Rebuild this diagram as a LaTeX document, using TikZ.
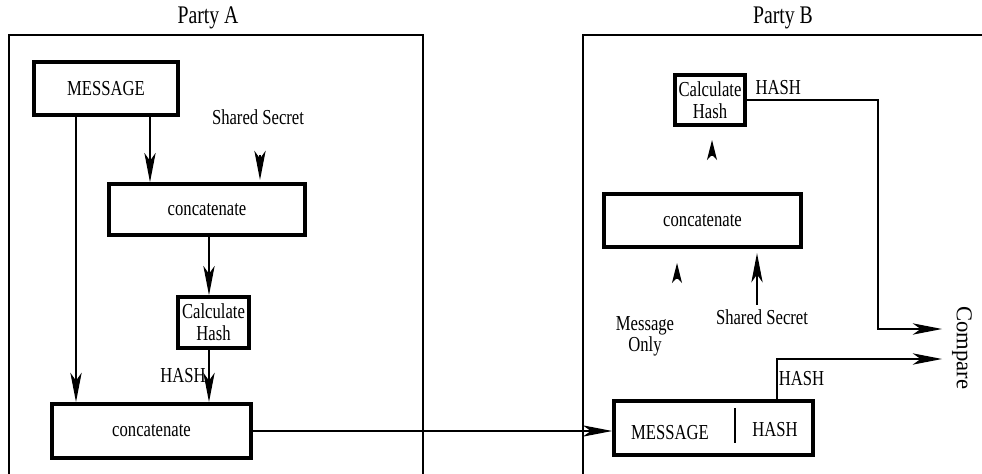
\documentclass[tikz,border=0pt]{standalone}
\usepackage{fontspec}
\setmainfont{Liberation Serif}[FakeStretch=0.78]
\newfontfamily\plainserif{Liberation Serif}
\usepackage{tikz}
\usetikzlibrary{arrows.meta,positioning}

\begin{document}
\begin{tikzpicture}[
  x=0.75pt, y=-0.75pt,
  font=\fontsize{16}{16.5}\selectfont,
  b/.style={draw, line width=3pt, align=center, inner sep=2pt},
  frame/.style={line width=0.9pt},
  arr/.style={-{Stealth[length=22pt,width=8.5pt,inset=6pt]}, line width=0.9pt},
  head/.style={-{Stealth[length=15pt,width=7.5pt,inset=4pt]}, line width=0.9pt},
  lbl/.style={inner sep=2pt}
]
\useasboundingbox (0,0) rectangle (982,474);

% Party A
\node (titleA) at (208,18) {\fontsize{19}{19}\selectfont Party A};
\draw[frame] (9,474) |- (423,35) -- (423,474);
\node[b, minimum width=108pt, minimum height=40pt] (msgA) at (106,88.5) {MESSAGE};
\node (ssA) at (258,117) {Shared Secret};
\node[b, minimum width=147pt, minimum height=38pt] (catA) at (207,209.5) {concatenate};
\node[b, minimum width=53pt, minimum height=38pt, inner sep=1pt] (hashA) at (213.5,322.5) {Calculate\\Hash};
\node[b, minimum width=149pt, minimum height=40.5pt] (catA2) at (151.5,431) {concatenate};
\coordinate (ssAin) at (260,155);
\coordinate (ssAtip) at (260,180);

\draw[arr] (150,0 |- msgA.south) -- (150,0 |- catA.north);
\draw[arr] (ssAin) -- (ssAtip);
\draw[arr] (209,0 |- catA.south) -- (209,0 |- hashA.north);
\draw[arr] (209,0 |- hashA.south) -- node[left, lbl] {HASH} (209,0 |- catA2.north);
\draw[arr] (76,0 |- msgA.south) -- (76,0 |- catA2.north);

% Party B
\node (titleB) at (783,18) {\fontsize{19}{19}\selectfont Party B};
\draw[frame] (583,474) |- (982,35);
\node[b, minimum width=52.5pt, minimum height=37.5pt, inner sep=1pt] (hashB) at (710,100) {Calculate\\Hash};
\node[anchor=west] (hlblB) at (751,88) {HASH};
\node[b, minimum width=148pt, minimum height=40pt] (catB) at (702.5,220.5) {concatenate};
\node[align=center, font=\fontsize{16}{13}\selectfont] (msgonly) at (645,336) {Message\\Only};
\node (ssB) at (762,317) {Shared Secret};
\node[b, minimum width=149pt, minimum height=40.5pt] (pktB) at (713.5,428) {};
\node (pktmsg) at (670,433) {MESSAGE};
\node (pkthash) at (775,430) {HASH};
\draw[line width=1pt] (735,408) -- (735,443);
\node[rotate=-90, font=\plainserif\fontsize{17}{17}\selectfont] (cmp) at (962,348) {Compare};
\coordinate (hashBin) at (712,156);
\coordinate (hashBtip) at (712,140);
\coordinate (moin) at (677,279);
\coordinate (motip) at (677,263);
\coordinate (cmpA) at (942,329);
\coordinate (cmpB) at (942,359);

\draw[head] (hashBin) -- (hashBtip);
\draw[head] (moin) -- (motip);
\draw[arr, shorten >=3pt] (757,0 |- ssB.north) -- (757,0 |- catB.south);
\draw[arr] (hashB.east) -| (878,0 |- cmpA) -- (cmpA);
\draw[arr] (777,0 |- pktB.north) |- node[pos=0.25, right, inner sep=1pt] {HASH} (cmpB);

\draw[arr] (catA2.east) -- (catA2.east -| pktB.west);
\end{tikzpicture}
\end{document}
